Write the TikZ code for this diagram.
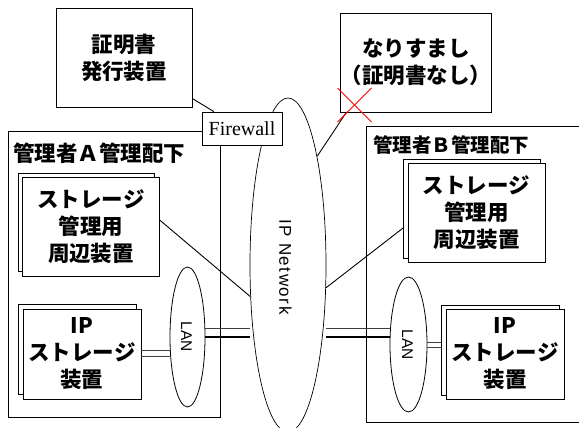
\documentclass[tikz,border=0pt]{standalone}
\usepackage{fontspec}
\setmainfont{Liberation Serif}
\newfontfamily\jpfont{Noto Sans CJK JP}
\newfontfamily\arialfont{Liberation Sans}
\newfontfamily\arialspaced{Liberation Sans}[LetterSpace=9]
\usetikzlibrary{shapes.geometric,calc}
\newcommand\jpbig{\jpfont\bfseries\fontsize{21.5}{27}\selectfont}
\newcommand\jpmid{\jpfont\bfseries\fontsize{19.5}{24}\selectfont}
\begin{document}
\begin{tikzpicture}[x=1pt,y=-1pt,
  frame/.style={draw, fill=white, inner sep=0pt, line width=0.8pt},
  box/.style={frame, align=center, font=\jpbig},
  conn/.style={line width=0.9pt},
  thinline/.style={line width=0.6pt, black!75},
  thickline/.style={line width=1.3pt}]
\useasboundingbox (0,0) rectangle (579,428);
% administrative domains
\node[frame, minimum width=212, minimum height=286] (adminA) at (114,274) {};
\node[frame, minimum width=217, minimum height=296] (adminB) at (474.5,274) {};
\node[anchor=west, inner sep=0pt, font=\jpbig] (labA) at (13,153) {管理者Ａ管理配下};
\node[anchor=west, inner sep=0pt, font=\jpmid] (labB) at (373,145) {管理者Ｂ管理配下};
% storage management boxes
\node[frame, minimum width=136.5, minimum height=98.5] (smAback) at (86.5,222.5) {};
\node[box, minimum width=136.5, minimum height=98.5] (smA) at (91,227) {ストレージ\\管理用\\周辺装置};
\node[frame, minimum width=137, minimum height=99] (smBback) at (472,208.5) {};
\node[box, minimum width=137, minimum height=99] (smB) at (476.5,212.5) {ストレージ\\管理用\\周辺装置};
% IP storage boxes
\node[frame, minimum width=118, minimum height=90] (ipsAback) at (77,349) {};
\node[box, minimum width=118, minimum height=90] (ipsA) at (82,354) {IP\\ストレージ\\装置};
\node[frame, minimum width=118, minimum height=90] (ipsBback) at (500.5,350) {};
\node[box, minimum width=118, minimum height=90] (ipsB) at (505,354) {IP\\ストレージ\\装置};
% LANs
\node[frame, ellipse, minimum width=35, minimum height=140] (lanA) at (187.5,337) {};
\node[rotate=-90, font=\arialfont\fontsize{15.5}{18}\selectfont] (lanAt) at (186.5,337) {LAN};
\node[frame, ellipse, minimum width=37, minimum height=135] (lanB) at (408.5,344.5) {};
\node[rotate=-90, font=\arialfont\fontsize{15.5}{18}\selectfont] (lanBt) at (407.5,344.5) {LAN};
% IP network
\node[frame, ellipse, line width=0.7pt, minimum width=76, minimum height=334] (net) at (288,265) {};
\node[rotate=-90, font=\arialspaced\fontsize{17}{20}\selectfont] (nett) at (285.5,267) {IP Network};
% firewall, certificate authority, spoofer
\node[frame, minimum width=80, minimum height=33, font=\fontsize{20}{24}\selectfont] (fw) at (242,128.5) {Firewall};
\node[box, minimum width=136, minimum height=99] (cert) at (124,57.5) {証明書\\発行装置};
\node[box, minimum width=136, minimum height=99] (spoof) at (416,62.5) {なりすまし\\（証明書なし）};
% connectors
\draw[conn] (cert) -- (fw);
\draw[conn] ($(spoof.south west)+(6,0)$) -- (net.75);
\draw[conn] ($(smA.east)+(0,-7)$) -- (net.220);
\draw[conn] (net.329) -- ($(smBback.west)+(0,19.5)$);
% LAN to network double lines
\coordinate (aUp) at ($(lanA.east)+(0,-9)$);
\draw[thinline] (aUp) -- (aUp -| net.west);
\draw[thickline] (lanA.east) -- (lanA.east -| net.west);
\coordinate (bUp) at ($(lanB.west)+(0,-16.5)$);
\coordinate (bLo) at ($(lanB.west)+(0,-7.5)$);
\draw[thinline] (bUp) -- (bUp -| net.east);
\draw[thickline] (bLo) -- (bLo -| net.east);
% storage to LAN double lines
\coordinate (sA1) at ($(ipsA.east)+(0,-3.3)$);
\coordinate (sA2) at ($(ipsA.east)+(0,2)$);
\draw[thinline] (sA1) -- (sA1 -| lanA.west);
\draw[thinline] (sA2) -- (sA2 -| lanA.west);
\coordinate (sB1) at ($(lanB.east)+(0,-2.5)$);
\coordinate (sB2) at ($(lanB.east)+(0,2.5)$);
\draw[thinline] (sB1) -- (sB1 -| ipsBback.west);
\draw[thinline] (sB2) -- (sB2 -| ipsBback.west);
% red cross
\coordinate (cross) at (354.5,105);
\draw[red, line width=1pt] ($(cross)+(-17,-17)$) -- ($(cross)+(17,17)$);
\draw[red, line width=1pt] ($(cross)+(-17,17)$) -- ($(cross)+(17,-17)$);
\end{tikzpicture}
\end{document}
